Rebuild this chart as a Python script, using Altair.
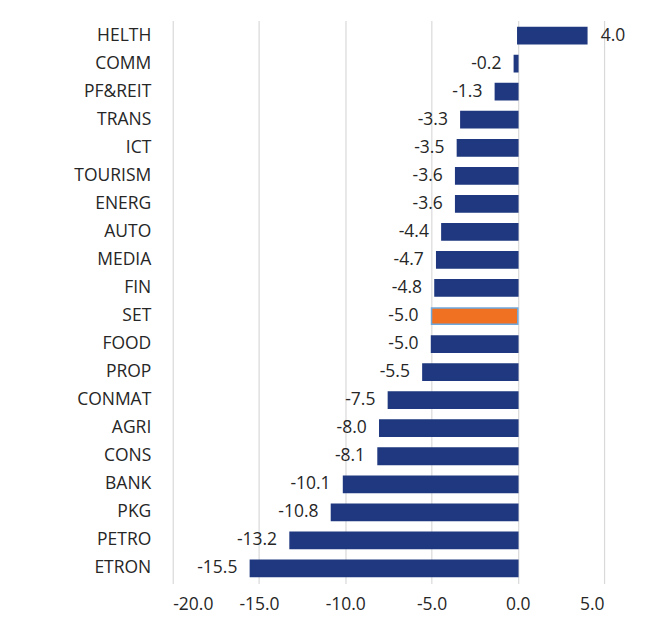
import altair as alt
import pandas as pd

categories = ["HELTH", "COMM", "PF&REIT", "TRANS", "ICT", "TOURISM", "ENERG", "AUTO", "MEDIA", "FIN",
              "SET", "FOOD", "PROP", "CONMAT", "AGRI", "CONS", "BANK", "PKG", "PETRO", "ETRON"]
values = [4.0, -0.2, -1.3, -3.3, -3.5, -3.6, -3.6, -4.4, -4.7, -4.8,
          -5.0, -5.0, -5.5, -7.5, -8.0, -8.1, -10.1, -10.8, -13.2, -15.5]
tick_values = [-20, -15, -10, -5, 0, 5]

df = pd.DataFrame({"cat": categories, "val": values})
df["label"] = df["val"].map(lambda v: f"{v:.1f}")
df["kind"] = ["SET" if c == "SET" else "other" for c in categories]

FONT = "Open Sans"
FS = 17.5
TXT = "#262626"

base = alt.Chart(df).encode(
    y=alt.Y("cat:N", sort=categories, title=None,
            scale=alt.Scale(paddingInner=0.42, paddingOuter=0.25),
            axis=alt.Axis(domain=False, ticks=False, labelFont=FONT, labelFontSize=FS,
                          labelColor=TXT, labelPadding=22, grid=False)),
)

bars = base.mark_bar(strokeWidth=1.5).encode(
    x=alt.X("val:Q", title=None,
            scale=alt.Scale(domain=[-20, 5], nice=False),
            axis=alt.Axis(values=tick_values, domain=False, ticks=False,
                          labelExpr="(datum.value < 0 ? '-' : '') + format(abs(datum.value), '.1f')",
                          labelFont=FONT, labelFontSize=FS, labelColor=TXT,
                          labelPadding=12, grid=True, gridColor="#d9d9d9", gridWidth=1.2)),
    color=alt.Color("kind:N", scale=alt.Scale(domain=["SET", "other"], range=["#F07122", "#1F387F"]), legend=None),
    stroke=alt.Stroke("kind:N", scale=alt.Scale(domain=["SET", "other"], range=["#6FA8DC", "#1F387F"]), legend=None),
)

neg = base.transform_filter("datum.val < 0").mark_text(
    align="right", dx=-13, font=FONT, fontSize=FS, color=TXT
).encode(x="val:Q", text="label:N")

pos = base.transform_filter("datum.val >= 0").mark_text(
    align="left", dx=14, font=FONT, fontSize=FS, color=TXT
).encode(x="val:Q", text="label:N")

chart = alt.layer(bars, neg, pos).properties(
    width=432, height=564,
    autosize=alt.AutoSizeParams(type="none"),
    padding={"left": 165, "top": 12, "right": 40, "bottom": 30},
).configure_view(stroke=None)

chart.save("out.html", embed_options={"renderer": "svg", "actions": False})
